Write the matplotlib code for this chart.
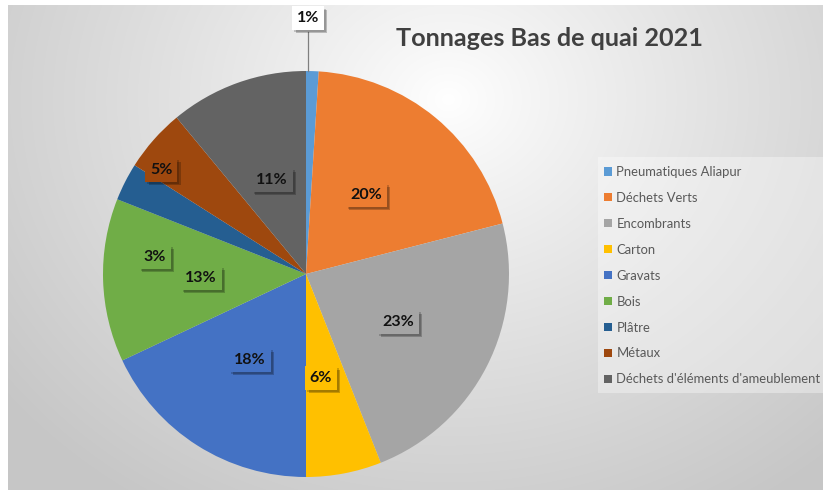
import numpy as np
import matplotlib
matplotlib.use("Agg")
import matplotlib.pyplot as plt
from matplotlib import patheffects as pe
from matplotlib.patches import Rectangle

# ---- data ----
categories = ["Pneumatiques Aliapur", "Déchets Verts", "Encombrants", "Carton",
              "Gravats", "Bois", "Plâtre", "Métaux",
              "Déchets d'éléments d'ameublement"]
values = [1, 20, 23, 6, 18, 13, 3, 5, 11]
pct_labels = ["1%", "20%", "23%", "6%", "18%", "13%", "3%", "5%", "11%"]
title = "Tonnages Bas de quai 2021"

# ---- style / layout ----
colors = ["#5B9BD5", "#ED7D31", "#A5A5A5", "#FFC000", "#4472C4",
          "#70AD47", "#255E91", "#9E480E", "#636363"]
label_pos = [(0.01, 1.26), (0.296, 0.389), (0.453, -0.236), (0.074, -0.512),
             (-0.276, -0.424), (-0.517, -0.020), (-0.744, 0.084),
             (-0.714, 0.512), (-0.167, 0.463)]
# fill of each label box = colour of the area it sits on
label_face = ["white", "#ED7D31", "#A5A5A5", "#FFC000", "#4472C4",
              "#70AD47", "#70AD47", "#9E480E", "#636363"]

W, H = 823, 490
fig = plt.figure(figsize=(W / 100, H / 100), dpi=100)
fig.patch.set_facecolor("white")

# background radial gradient (chart area)
bg = fig.add_axes([8 / W, 0, (W - 8) / W, (H - 5) / H])
bg.set_axis_off()
yy, xx = np.mgrid[0:H - 5, 0:W - 8]
cx, cy = 440, 95
d = np.sqrt(((xx - cx) / 1.0) ** 2 + ((yy - cy) / 0.85) ** 2)
t = np.clip(d / 560, 0, 1) ** 0.9
lum = (1 - t) * 1.0 + t * 0.78
img = np.dstack([lum, lum, lum])
bg.imshow(img, aspect="auto", extent=[0, 1, 0, 1], origin="upper")
bg.set_xlim(0, 1)
bg.set_ylim(0, 1)

# pie axes: center (306,274) px, radius 203 px
cxp, cyp, r = 306, 274, 203
ax = fig.add_axes([(cxp - r) / W, (H - cyp - r) / H, 2 * r / W, 2 * r / H])
ax.set_axis_off()
wedges, _ = ax.pie(values, colors=colors, startangle=90, counterclock=False,
                   radius=1, wedgeprops=dict(linewidth=0))
ax.set_xlim(-1, 1)
ax.set_ylim(-1, 1)
ax.set_aspect("auto")

shadow = [pe.withSimplePatchShadow(offset=(2.5, -2.5), shadow_rgbFace="black", alpha=0.22),
          pe.withSimplePatchShadow(offset=(1.5, -1.5), shadow_rgbFace="black", alpha=0.18)]
for i, (lab, (x, y)) in enumerate(zip(pct_labels, label_pos)):
    t_ = ax.text(x, y, lab, ha="center", va="center", fontsize=11.5,
                 fontweight="bold", family="Lato", color="#111111", clip_on=False,
                 bbox=dict(boxstyle="square,pad=0.3", fc=label_face[i], ec="none"),
                 zorder=5)
    t_.get_bbox_patch().set_path_effects(shadow)

# leader line for the 1% label
ang = np.deg2rad(90 - values[0] / sum(values) * 360 / 2)
ax.plot([label_pos[0][0], label_pos[0][0]], [label_pos[0][1] - 0.07, np.sin(ang)],
        color="#7f7f7f", lw=0.9, clip_on=False, zorder=4)

# title
fig.text(550 / W, 1 - 38 / H, title, ha="center", va="center", fontsize=18.2,
         fontweight="bold", family="Lato", color="#404040")

# legend background
fig.patches.append(Rectangle((598 / W, 1 - 393 / H), (W - 598) / W, 236 / H,
                             transform=fig.transFigure, fc="white", alpha=0.35,
                             ec="none", zorder=1))
leg = fig.legend(wedges, categories, loc="upper left",
                 bbox_to_anchor=(604 / W, 1 - 166 / H), frameon=False,
                 prop=dict(family="Lato", size=9.4), labelcolor="#595959",
                 handlelength=0.6, handleheight=0.6, handletextpad=0.35,
                 labelspacing=1.066, borderaxespad=0, borderpad=0)

fig.savefig("out.png", dpi=100)
